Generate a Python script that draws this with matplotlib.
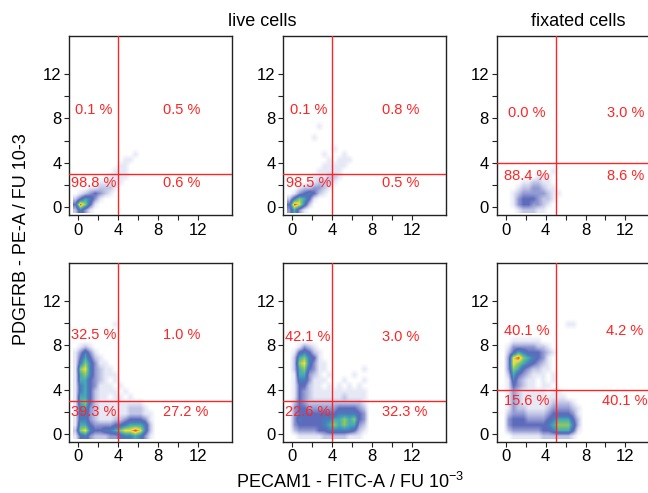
import numpy as np
import matplotlib
matplotlib.use("Agg")
import matplotlib.pyplot as plt
from matplotlib.colors import LinearSegmentedColormap

plt.rcParams['font.family'] = ['Liberation Sans', 'DejaVu Sans']

# ---------------------------------------------------------------------------
# Data
# ---------------------------------------------------------------------------

col_titles = ['live cells', 'fixated cells']
x_label = 'PECAM1 - FITC-A / FU 10$^{\\mathregular{-3}}$'
y_label = 'PDGFRB - PE-A / FU 10-3'
tick_vals = [0, 4, 8, 12]
minor_vals = [2, 6, 10]

# gate positions per panel (row major: top-left ... bottom-right)
gate_x = [4, 4, 5, 4, 4, 5]
gate_y = [3, 3, 4, 3, 3, 4]

# quadrant percentages
pct_ul = [0.1, 0.1, 0.0, 32.5, 42.1, 40.1]
pct_ur = [0.5, 0.8, 3.0, 1.0, 3.0, 4.2]
pct_ll = [98.8, 98.5, 88.4, 39.3, 22.6, 15.6]
pct_lr = [0.6, 0.5, 8.6, 27.2, 32.3, 40.1]

# event density (0 = empty ... 9 = max), 0.5 x 0.5 bins,
# x from -0.5 to 8.5, y from -0.5 to 10.5, top row first
dens_live_1 = [
    "000000000000000000", "000000000000000000", "000000000000000000",
    "000000000000000000", "000000000000000000", "000000000000000000",
    "000000000000000000", "000000000000000000", "000000000000000000",
    "000000000000000000", "000000000000000000", "000000000000100000",
    "000000000011000000", "000000000110000000", "000000001110000000",
    "000000011110000000", "000001111100000000", "000112221000000000",
    "012343210000000000", "246531000000000000", "497410000000000000",
    "253100000000000000",
]
dens_live_2 = [
    "000000000000000000", "000000000000000000", "000000000000000000",
    "000000000000000000", "000000000000000000", "000000000000000000",
    "000000100000000000", "000000000000000000", "000001000000000000",
    "000000000000000000", "000000000100000000", "000000010001000000",
    "000000001011100000", "000000011111000000", "000000111110000000",
    "000001112210000000", "000011222100000000", "001223321000000000",
    "013454210000000000", "257641000000000000", "498520000000000000",
    "363100000000000000",
]
dens_fix_1 = [
    "000000000000000000", "000000000000000000", "000000000000000000",
    "000000000000000000", "000000000000000000", "000000000000000000",
    "000000000000000000", "000000000000000000", "000000000000000000",
    "000000000000000000", "000000000000000000", "000000000000000000",
    "000000000000000000", "000000000000000000", "000000000010000000",
    "000000011100000000", "000011221100000000", "000122332110000000",
    "001233333211000000", "001344432210000000", "001344332100000000",
    "000122211000000000",
]
dens_live_3 = [
    "000000000000000000", "000000001000000000", "000000000000000000",
    "000000000000000000", "000000000000000000", "012100000000000000",
    "135310000000000000", "146421000000000000", "157531100000000000",
    "178532110000000000", "167532111000000000", "166432101000000000",
    "156431110100000000", "156421111010000000", "166421101101000000",
    "167421111111110000", "156321111112221000", "155321111112221100",
    "155321112234443100", "166433334456665200", "278544556788985200",
    "145322233455653100",
]
dens_live_4 = [
    "000000000000000000", "000000000000000000", "000000000000000000",
    "000000000000000000", "000000000000000000", "001321000000000000",
    "014542100000000000", "026754100000000000", "027853110000000000",
    "026743110000000100", "016632101000010000", "015531110001000100",
    "014421101010101000", "014321111111111100", "014321111112111100",
    "024322222222222100", "034433333344443200", "034444444455554300",
    "035444455667674300", "034444456767663200", "023333445555542100",
    "001111122222111000",
]
dens_fix_2 = [
    "000000000000000000", "000000000000011000", "000000000000000000",
    "000000000000000000", "001111110000000000", "013333322100000000",
    "024654443210000000", "038976543100000000", "038765432100000000",
    "037643221100000000", "026432111010000000", "015321101010000000",
    "014321101100000000", "013211111011000000", "013211111111100000",
    "013211111122221000", "013221111233332100", "023332222344443100",
    "034443333456664200", "034444444567775200", "023333334456664100",
    "001111112222221000",
]
panel_density = [dens_live_1, dens_live_2, dens_fix_1,
                 dens_live_3, dens_live_4, dens_fix_2]

# ---------------------------------------------------------------------------
# Layout / style
# ---------------------------------------------------------------------------

grid_extent = (-0.5, 8.5, -0.5, 10.5)
col_left = [0.1069, 0.4372, 0.7665]
ax_w = 0.2511
row_bottom = [0.5639, 0.1041]
ax_h = 0.3625

# label positions per panel: left x (centre), right x, right ha, upper y, lower y
lab_pos = [
    (1.55, 8.5, 'left', 8.8, 2.2),
    (1.60, 9.0, 'left', 8.8, 2.2),
    (2.14, 12.0, 'center', 8.5, 2.85),
    (1.55, 8.5, 'left', 8.95, 1.95),
    (1.55, 8.95, 'left', 8.7, 1.95),
    (2.15, 11.95, 'center', 9.3, 3.0),
]

level_colors = ['#ffffff', '#e6e8f5', '#c2c6e6', '#929ad2', '#5e6abb',
                '#4a7dba', '#45a9b8', '#8cc95e', '#efe04a', '#ee4a22']
dens_cmap = LinearSegmentedColormap.from_list('flow', level_colors)
gate_color = '#ff2424'

fig = plt.figure(figsize=(6.48, 4.93), dpi=100)
fig.patch.set_facecolor('white')

for k in range(6):
    r, c = divmod(k, 3)
    ax = fig.add_axes([col_left[c], row_bottom[r], ax_w, ax_h])

    grid = np.array([[int(ch) for ch in row] for row in panel_density[k]], float)
    ax.imshow(grid, extent=grid_extent, origin='upper', cmap=dens_cmap,
              vmin=0, vmax=9, interpolation='bilinear', aspect='auto', zorder=1)

    ax.axvline(gate_x[k], color=gate_color, lw=1.0, zorder=3)
    ax.axhline(gate_y[k], color=gate_color, lw=1.0, zorder=3)

    xl, xr, ha_r, yu, yd = lab_pos[k]
    tkw = dict(color=gate_color, fontsize=10.5, va='center', zorder=4)
    ax.text(xl, yu, f'{pct_ul[k]:.1f} %', ha='center', **tkw)
    ax.text(xr, yu, f'{pct_ur[k]:.1f} %', ha=ha_r, **tkw)
    ax.text(xl, yd, f'{pct_ll[k]:.1f} %', ha='center', **tkw)
    ax.text(xr, yd, f'{pct_lr[k]:.1f} %', ha=ha_r, **tkw)

    ax.set_xlim(-0.9, 15.4)
    ax.set_ylim(-0.7, 15.4)
    ax.set_xticks(tick_vals)
    ax.set_yticks(tick_vals)
    ax.set_xticks(minor_vals, minor=True)
    ax.set_yticks(minor_vals, minor=True)
    ax.tick_params(which='both', direction='out', length=3.6, width=0.8,
                   color='#222222', labelsize=12, pad=2)
    for sp in ax.spines.values():
        sp.set_linewidth(1.0)
        sp.set_color('#222222')

fig.text(0.404, 0.957, col_titles[0], ha='center', va='center', fontsize=13)
fig.text(0.893, 0.957, col_titles[1], ha='center', va='center', fontsize=13)
fig.text(0.54, 0.022, x_label, ha='center', va='center', fontsize=13)
fig.text(0.033, 0.515, y_label, ha='center', va='center', rotation=90,
         fontsize=13)

fig.savefig('out.png', dpi=100, facecolor='white')
